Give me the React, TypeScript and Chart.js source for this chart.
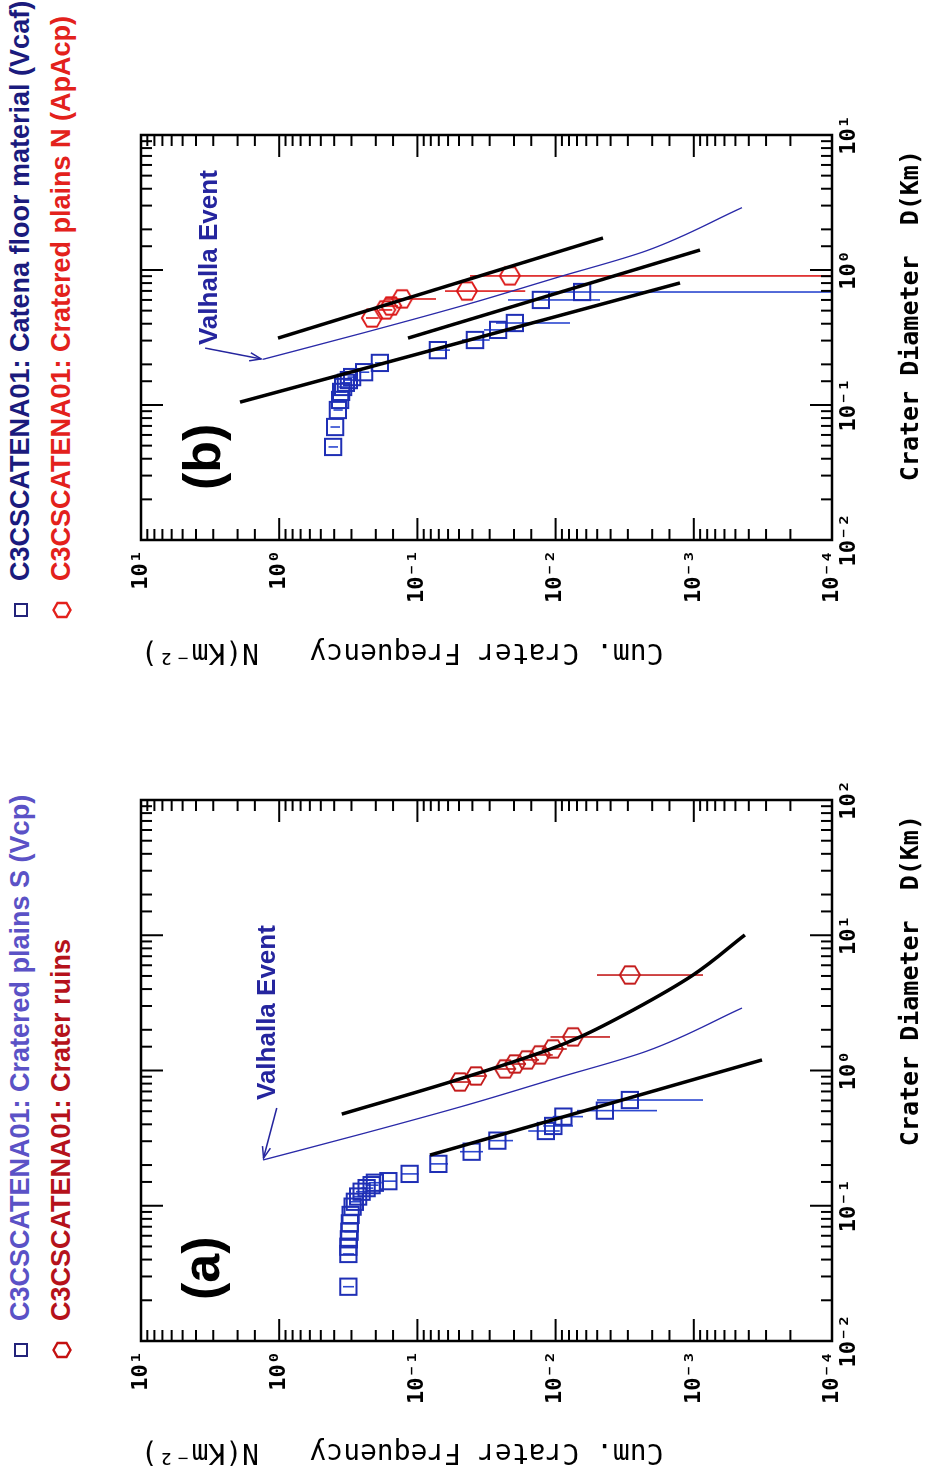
import React, { useEffect, useRef } from 'react';
import { Chart, registerables } from 'chart.js';
Chart.register(...registerables);

// ---------- shared tick labels ----------
const dDecades = [0.01, 0.1, 1, 10, 100];
const dTickLabels = ['10⁻²', '10⁻¹', '10⁰', '10¹', '10²'];
const nDecades = [1e-4, 1e-3, 1e-2, 1e-1, 1, 10];
const nTickLabels = ['10⁻⁴', '10⁻³', '10⁻²', '10⁻¹', '10⁰', '10¹'];

// ---------- Valhalla event curve (both panels) ----------
const valhallaD = [0.218, 0.345, 0.556, 0.88, 1.393, 2.897];
const valhallaN = [1.309, 0.239, 0.0438, 0.00977, 0.00218, 0.000448];

// ---------- panel (a): Cratered plains S (Vcp) ----------
const vcpD = [0.0252, 0.044, 0.0498, 0.0565, 0.0643, 0.0741, 0.0855, 0.0985, 0.107, 0.117, 0.127, 0.135, 0.142, 0.148, 0.152, 0.172, 0.204, 0.251, 0.303, 0.357, 0.389, 0.456, 0.505, 0.605];
const vcpN = [0.316, 0.316, 0.316, 0.313, 0.31, 0.308, 0.304, 0.294, 0.283, 0.268, 0.253, 0.233, 0.214, 0.203, 0.162, 0.114, 0.0706, 0.0405, 0.0264, 0.01175, 0.0104, 0.00879, 0.0044, 0.0029];
const vcpNHi = [0.345, 0.345, 0.345, 0.342, 0.339, 0.336, 0.332, 0.322, 0.31, 0.294, 0.278, 0.257, 0.237, 0.225, 0.181, 0.13, 0.0811, 0.0492, 0.0299, 0.0158, 0.0123, 0.0105, 0.007, 0.00501];
const vcpNLo = [0.287, 0.287, 0.287, 0.284, 0.281, 0.28, 0.276, 0.266, 0.256, 0.242, 0.228, 0.209, 0.191, 0.181, 0.143, 0.098, 0.0601, 0.0335, 0.0203, 0.00933, 0.00748, 0.00634, 0.00185, 0.000857];

// ---------- panel (a): Crater ruins ----------
const ruinsD = [0.822, 0.91, 1.026, 1.117, 1.197, 1.303, 1.442, 1.77, 5.08];
const ruinsN = [0.0492, 0.0377, 0.0232, 0.0197, 0.0161, 0.013, 0.01045, 0.00748, 0.0029];
const ruinsNHi = [0.056, 0.043, 0.027, 0.023, 0.019, 0.0155, 0.0126, 0.0109, 0.00501];
const ruinsNLo = [0.0424, 0.0324, 0.0194, 0.0164, 0.0132, 0.0105, 0.0083, 0.00404, 0.000857];

// ---------- panel (a): fitted curves ----------
const fitVcpD = [0.237, 1.197];
const fitVcpN = [0.0811, 0.000321];
const fitRuinsD = [0.476, 0.822, 1.419, 1.77, 2.8, 5.08, 10.05];
const fitRuinsN = [0.352, 0.0581, 0.01135, 0.00665, 0.00275, 0.001014, 0.000427];

// ---------- panel (b): Catena floor material (Vcaf) ----------
const vcafD = [0.0489, 0.0687, 0.0918, 0.109, 0.125, 0.136, 0.146, 0.153, 0.161, 0.175, 0.205, 0.255, 0.303, 0.36, 0.405, 0.6, 0.687];
const vcafN = [0.408, 0.394, 0.376, 0.363, 0.357, 0.345, 0.329, 0.313, 0.297, 0.243, 0.187, 0.071, 0.0383, 0.0261, 0.0197, 0.01276, 0.00644];
const vcafNHi = [0.44, 0.425, 0.405, 0.391, 0.385, 0.372, 0.355, 0.338, 0.321, 0.263, 0.203, 0.0837, 0.0475, 0.033, 0.027, 0.0221, 0.0119];
const vcafNLo = [0.376, 0.363, 0.347, 0.335, 0.329, 0.318, 0.303, 0.288, 0.273, 0.223, 0.171, 0.0581, 0.0299, 0.0194, 0.00787, 0.00478, 0.000001];

// ---------- panel (b): Cratered plains N (ApAcp) ----------
const apacpD = [0.441, 0.506, 0.541, 0.61, 0.698, 0.904];
const apacpN = [0.213, 0.171, 0.155, 0.129, 0.0438, 0.0214];
const apacpNHi = [0.235, 0.19, 0.172, 0.171, 0.0631, 0.0416];
const apacpNLo = [0.191, 0.152, 0.138, 0.0733, 0.0166, 0.000001];

// ---------- panel (b): fitted lines ----------
const fitB1D = [0.313, 1.726];
const fitB1N = [1.02, 0.00454];
const fitB2D = [0.313, 1.406];
const fitB2N = [0.117, 0.000902];
const fitB3D = [0.105, 0.802];
const fitB3N = [1.923, 0.00126];

const MONO = "'DejaVu Sans Mono', monospace";
const SANS = "'Liberation Sans', Arial, sans-serif";

const pts = (d: number[], n: number[]) => d.map((x, i) => ({ x, y: n[i] }));
const bars = (d: number[], lo: number[], hi: number[]) =>
  d.flatMap((x, i) => [{ x, y: hi[i] }, { x, y: lo[i] }, { x, y: null as any }]);

const decadeLabel = (decades: number[], labels: string[]) => (v: any) => {
  const val = Number(v);
  const i = decades.findIndex((d) => Math.abs(Math.log10(val) - Math.log10(d)) < 1e-6);
  return i >= 0 ? labels[i] : '';
};
const isDecade = (v: number) => Math.abs(Math.log10(v) - Math.round(Math.log10(v))) < 1e-6;

function makeHex(color: string, lw = 2) {
  const c = document.createElement('canvas');
  c.width = 24;
  c.height = 24;
  const g = c.getContext('2d')!;
  g.strokeStyle = color;
  g.lineWidth = lw;
  g.beginPath();
  for (let i = 0; i < 6; i++) {
    const a = Math.PI / 2 + (i * Math.PI) / 3;
    const px = 12 + 10 * Math.cos(a);
    const py = 12 + 10 * Math.sin(a);
    if (i === 0) g.moveTo(px, py);
    else g.lineTo(px, py);
  }
  g.closePath();
  g.stroke();
  return c;
}

const framePlugin = {
  id: 'frameTicks',
  afterDatasetsDraw(chart: any) {
    const { ctx, chartArea: a, scales } = chart;
    const xs = scales.x;
    const ys = scales.y;
    ctx.save();
    ctx.strokeStyle = '#000';
    ctx.lineWidth = 2;
    const seg = (x0: number, y0: number, x1: number, y1: number) => {
      ctx.beginPath();
      ctx.moveTo(x0, y0);
      ctx.lineTo(x1, y1);
      ctx.stroke();
    };
    xs.ticks.forEach((t: any) => {
      const p = xs.getPixelForValue(t.value);
      if (p < a.left - 0.5 || p > a.right + 0.5) return;
      const L = isDecade(t.value) ? 22 : 11;
      seg(p, a.bottom, p, a.bottom - L);
      seg(p, a.top, p, a.top + L);
    });
    ys.ticks.forEach((t: any) => {
      const p = ys.getPixelForValue(t.value);
      if (p < a.top - 0.5 || p > a.bottom + 0.5) return;
      const L = isDecade(t.value) ? 22 : 11;
      seg(a.left, p, a.left + L, p);
      seg(a.right, p, a.right - L, p);
    });
    ctx.lineWidth = 2.5;
    ctx.strokeRect(a.left, a.top, a.right - a.left, a.bottom - a.top);
    ctx.restore();
  },
};

interface PanelSpec {
  dMax: number;
  padRight: number;
  yWidth: number;
  sq: { d: number[]; n: number[]; lo: number[]; hi: number[] };
  hx: { d: number[]; n: number[]; lo: number[]; hi: number[]; color: string };
  fits: { d: number[]; n: number[] }[];
  label: string;
  labelDx: number;
  labelDy: number;
  textD: number;
  textN: number;
  arrowD: number;
  arrowN: number;
}

function annotPlugin(p: PanelSpec) {
  return {
    id: 'annot',
    afterDraw(chart: any) {
      const { ctx, chartArea: a, scales } = chart;
      const xs = scales.x;
      const ys = scales.y;
      ctx.save();
      ctx.fillStyle = '#000';
      ctx.textBaseline = 'middle';
      ctx.textAlign = 'left';
      ctx.font = `bold 52px ${SANS}`;
      ctx.fillText(p.label, a.left + p.labelDx, a.top + p.labelDy);

      ctx.fillStyle = '#25259e';
      ctx.font = `bold 26px ${SANS}`;
      ctx.fillText('Valhalla Event', xs.getPixelForValue(p.textD), ys.getPixelForValue(p.textN));

      const x0 = xs.getPixelForValue(p.arrowD);
      const y0 = ys.getPixelForValue(p.arrowN);
      let x1 = xs.getPixelForValue(valhallaD[0]);
      let y1 = ys.getPixelForValue(valhallaN[0]);
      const ang = Math.atan2(y1 - y0, x1 - x0);
      x1 -= 2 * Math.cos(ang);
      y1 -= 2 * Math.sin(ang);
      ctx.strokeStyle = '#25259e';
      ctx.lineWidth = 1.5;
      ctx.beginPath();
      ctx.moveTo(x0, y0);
      ctx.lineTo(x1, y1);
      ctx.stroke();
      const L = 12;
      ctx.beginPath();
      ctx.moveTo(x1 - L * Math.cos(ang - 0.35), y1 - L * Math.sin(ang - 0.35));
      ctx.lineTo(x1, y1);
      ctx.lineTo(x1 - L * Math.cos(ang + 0.35), y1 - L * Math.sin(ang + 0.35));
      ctx.stroke();
      ctx.restore();
    },
  };
}

function buildChart(canvas: HTMLCanvasElement, p: PanelSpec) {
  const hex = makeHex(p.hx.color);
  const datasets: any[] = [];
  p.fits.forEach((f) => {
    datasets.push({
      data: pts(f.d, f.n),
      borderColor: '#000',
      borderWidth: 3.5,
      pointRadius: 0,
      cubicInterpolationMode: 'monotone',
      tension: 0.4,
      order: 0,
    });
  });
  datasets.push({
    data: pts(valhallaD, valhallaN),
    borderColor: '#2a2aa8',
    borderWidth: 1.3,
    pointRadius: 0,
    cubicInterpolationMode: 'monotone',
    tension: 0.4,
    order: 1,
  });
  datasets.push({
    data: pts(p.sq.d, p.sq.n),
    showLine: false,
    pointStyle: 'rect',
    pointRadius: 11.5,
    pointBorderWidth: 2,
    pointBorderColor: '#1f2fb5',
    pointBackgroundColor: 'rgba(0,0,0,0)',
    order: 2,
  });
  datasets.push({
    data: pts(p.hx.d, p.hx.n),
    showLine: false,
    pointStyle: hex,
    pointRadius: 10,
    order: 2,
  });
  datasets.push({
    data: bars(p.sq.d, p.sq.lo, p.sq.hi),
    borderColor: '#2c48d0',
    borderWidth: 1.6,
    pointRadius: 0,
    spanGaps: false,
    order: 3,
  });
  datasets.push({
    data: bars(p.hx.d, p.hx.lo, p.hx.hi),
    borderColor: p.hx.color,
    borderWidth: 1.6,
    pointRadius: 0,
    spanGaps: false,
    order: 3,
  });

  return new Chart(canvas, {
    type: 'line',
    data: { datasets },
    plugins: [framePlugin, annotPlugin(p)],
    options: {
      responsive: false,
      animation: false,
      devicePixelRatio: 1,
      layout: { padding: { left: 0, right: p.padRight, top: 41, bottom: 0 } },
      plugins: { legend: { display: false }, tooltip: { enabled: false } },
      scales: {
        x: {
          type: 'logarithmic',
          position: 'bottom',
          min: 0.01,
          max: p.dMax,
          grid: { display: false, drawTicks: false },
          border: { display: false },
          ticks: {
            autoSkip: false,
            maxRotation: 0,
            minRotation: 0,
            padding: 4,
            color: '#000',
            font: { family: MONO, size: 22, weight: 'bold' },
            callback: decadeLabel(dDecades, dTickLabels),
          },
          title: {
            display: true,
            text: 'Crater Diameter  D(Km) ',
            align: 'end',
            color: '#000',
            font: { family: MONO, size: 25, weight: 'bold' },
            padding: { top: 0, bottom: 0 },
          },
          afterFit: (s: any) => {
            s.height = 94;
          },
        },
        y: {
          type: 'logarithmic',
          position: 'left',
          min: 1e-4,
          max: 10,
          grid: { display: false, drawTicks: false },
          border: { display: false },
          ticks: {
            autoSkip: false,
            padding: 10,
            color: '#000',
            font: { family: MONO, size: 22, weight: 'bold' },
            callback: decadeLabel(nDecades, nTickLabels),
          },
          title: {
            display: true,
            text: 'Cum. Crater Frequency   N(Km⁻²)',
            align: 'end',
            color: '#000',
            font: { family: MONO, size: 28, weight: 'normal' },
            padding: { top: 13, bottom: 0 },
          },
          afterFit: (s: any) => {
            s.width = p.yWidth;
          },
        },
      },
    } as any,
  });
}

const panelA: PanelSpec = {
  dMax: 100,
  padRight: 59,
  yWidth: 140,
  sq: { d: vcpD, n: vcpN, lo: vcpNLo, hi: vcpNHi },
  hx: { d: ruinsD, n: ruinsN, lo: ruinsNLo, hi: ruinsNHi, color: '#c41c1c' },
  fits: [
    { d: fitVcpD, n: fitVcpN },
    { d: fitRuinsD, n: fitRuinsN },
  ],
  label: '(a)',
  labelDx: 41,
  labelDy: 64,
  textD: 0.605,
  textN: 1.205,
  arrowD: 0.528,
  arrowN: 1.04,
};

const panelB: PanelSpec = {
  dMax: 10,
  padRight: 135,
  yWidth: 141,
  sq: { d: vcafD, n: vcafN, lo: vcafNLo, hi: vcafNHi },
  hx: { d: apacpD, n: apacpN, lo: apacpNLo, hi: apacpNHi, color: '#dc1a1a' },
  fits: [
    { d: fitB1D, n: fitB1N },
    { d: fitB2D, n: fitB2N },
    { d: fitB3D, n: fitB3N },
  ],
  label: '(b)',
  labelDx: 50,
  labelDy: 65,
  textD: 0.278,
  textN: 3.16,
  arrowD: 0.264,
  arrowN: 3.44,
};

function Hex({ color }: { color: string }) {
  return (
    <svg width="18" height="20" viewBox="0 0 18 20" style={{ display: 'block' }}>
      <polygon points="9,1.5 16,5.5 16,14.5 9,18.5 2,14.5 2,5.5" fill="none" stroke={color} strokeWidth="2.4" />
    </svg>
  );
}

function LegendRow(props: { u: number; v: number; marker: 'sq' | 'hex'; markerColor: string; text: string; color: string }) {
  const { u, v, marker, markerColor, text, color } = props;
  return (
    <>
      <div style={{ position: 'absolute', left: u - 9, top: v - 10, width: 18, height: 20, display: 'flex', alignItems: 'center', justifyContent: 'center' }}>
        {marker === 'sq' ? (
          <div style={{ width: 10, height: 10, border: `2px solid ${markerColor}` }} />
        ) : (
          <Hex color={markerColor} />
        )}
      </div>
      <div
        style={{
          position: 'absolute',
          left: u + 29,
          top: v - 16,
          height: 32,
          lineHeight: '32px',
          whiteSpace: 'nowrap',
          font: `bold 27px ${SANS}`,
          color,
        }}
      >
        {text}
      </div>
    </>
  );
}

export default function App() {
  const refA = useRef<HTMLCanvasElement>(null);
  const refB = useRef<HTMLCanvasElement>(null);
  useEffect(() => {
    document.body.style.overflow = 'hidden';
    const ca = buildChart(refA.current!, panelA);
    const cb = buildChart(refB.current!, panelB);
    return () => {
      ca.destroy();
      cb.destroy();
    };
  }, []);
  return (
    <div
      style={{
        position: 'absolute',
        left: 0,
        top: 0,
        width: 1481,
        height: 926,
        transformOrigin: '0 0',
        transform: 'translate(0px, 1481px) rotate(-90deg)',
        background: '#fff',
        overflow: 'hidden',
      }}
    >
      <LegendRow u={131} v={21} marker="sq" markerColor="#23237a" text="C3CSCATENA01: Cratered plains S (Vcp)" color="#5b52c6" />
      <LegendRow u={131} v={62} marker="hex" markerColor="#c41111" text="C3CSCATENA01: Crater ruins" color="#b5121b" />
      <LegendRow u={871} v={21} marker="sq" markerColor="#23237a" text="C3CSCATENA01: Catena floor material (Vcaf)" color="#1b1b7d" />
      <LegendRow u={871} v={62} marker="hex" markerColor="#e3211c" text="C3CSCATENA01: Cratered plains N (ApAcp)" color="#e3211c" />
      <canvas ref={refA} width={740} height={826} style={{ position: 'absolute', left: 0, top: 100, width: 740, height: 826 }} />
      <canvas ref={refB} width={681} height={826} style={{ position: 'absolute', left: 800, top: 100, width: 681, height: 826 }} />
    </div>
  );
}
